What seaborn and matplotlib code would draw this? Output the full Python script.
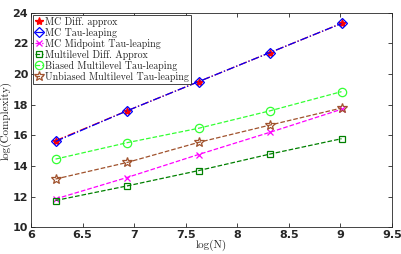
import numpy as np
import pandas as pd
import seaborn as sns
import matplotlib.pyplot as plt

log_n = [6.2383, 6.9315, 7.6246, 8.3178, 9.0109]
mc_diff = [15.65, 17.6, 19.5, 21.4, 23.3]
mc_tau = [15.6, 17.6, 19.5, 21.4, 23.3]
mc_mid = [11.85, 13.25, 14.75, 16.2, 17.7]
ml_diff = [11.75, 12.7, 13.7, 14.78, 15.78]
biased_ml = [14.45, 15.52, 16.46, 17.6, 18.85]
unbiased_ml = [13.15, 14.23, 15.54, 16.67, 17.78]

names = ["MC Diff. approx", "MC Tau-leaping", "MC Midpoint Tau-leaping",
         "Multilevel Diff. Approx", "Biased Multilevel Tau-leaping",
         "Unbiased Multilevel Tau-leaping"]
series = [mc_diff, mc_tau, mc_mid, ml_diff, biased_ml, unbiased_ml]
colors = ["#ff0000", "#0000ff", "#ff00ff", "#008000", "#33ff33", "#a0522d"]
markers = ["*", "D", "x", "s", "o", "*"]
styles = ["-.", "-.", "--", "--", "--", "--"]
msizes = [6, 5, 4.5, 4.5, 6, 7.5]

sns.set_style("ticks")

fig, ax = plt.subplots(figsize=(4.02, 2.54), dpi=100)
for name, vals, c, m, ls, ms in zip(names, series, colors, markers, styles, msizes):
    df = pd.DataFrame({"x": log_n, "y": vals})
    filled = c == "#ff0000"
    sns.lineplot(data=df, x="x", y="y", ax=ax, color=c, linestyle=ls,
                 linewidth=0.9, marker=m, markersize=ms,
                 markerfacecolor=(c if filled else "none"),
                 markeredgecolor=c, markeredgewidth=0.9, label=name)

ax.set_xlim(6, 9.5)
ax.set_ylim(10, 24)
ax.set_xticks([6, 6.5, 7, 7.5, 8, 8.5, 9, 9.5])
ax.set_yticks([10, 12, 14, 16, 18, 20, 22, 24])
ax.set_xticklabels(["6", "6.5", "7", "7.5", "8", "8.5", "9", "9.5"])
ax.tick_params(direction="in", top=True, right=True, length=3, width=0.6,
               labelsize=8, pad=2, colors="#262626")
for lab in ax.get_xticklabels() + ax.get_yticklabels():
    lab.set_fontweight("bold")
for sp in ax.spines.values():
    sp.set_linewidth(0.6)
    sp.set_color("#262626")
ax.set_xlabel("log(N)", fontfamily="cmr10", fontsize=8, labelpad=0)
ax.set_ylabel("log(Complexity)", fontfamily="cmr10", fontsize=8, labelpad=1)

leg = ax.legend(loc="upper left", prop={"family": "cmr10", "size": 7.2},
                handlelength=0.8, handletextpad=0.2, borderpad=0.2,
                labelspacing=0.1, borderaxespad=0.2, fancybox=False,
                framealpha=1)
leg.get_frame().set_edgecolor("#262626")
leg.get_frame().set_linewidth(0.6)

fig.subplots_adjust(left=0.077, right=0.975, top=0.95, bottom=0.105)
fig.savefig("out.png", dpi=100)
